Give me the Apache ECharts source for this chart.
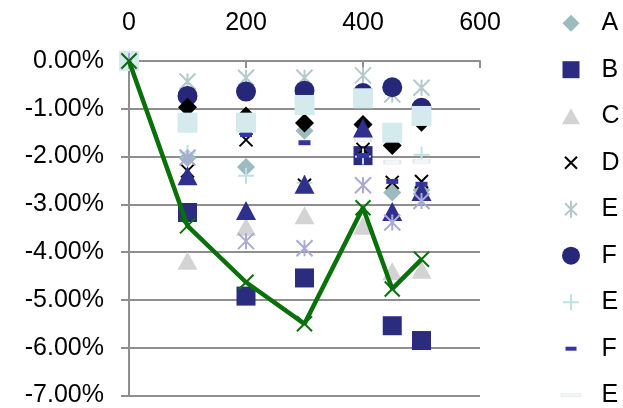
<!DOCTYPE html>
<html>
<head>
<meta charset="utf-8">
<script src="https://cdn.jsdelivr.net/npm/echarts@6/dist/echarts.min.js"></script>
<style>
  html, body { margin: 0; padding: 0; background: #fff; }
  #chart { width: 623px; height: 408px; }
</style>
</head>
<body>
<div id="chart"></div>
<script>
// Sample positions along the horizontal axis
var xValues = [0, 100, 200, 300, 400, 450, 500];

// Series values, in percent
var serA  = [0, -2.03, -2.22, -1.46, -1.33, -2.75, -2.70];
var serB  = [0, -3.17, -4.92, -4.54, -1.98, -5.54, -5.85];
var serC  = [0, -4.18, -3.47, -3.23, -3.45, -4.40, -4.37];
var serD  = [0, -2.30, -1.65, -2.60, -1.85, -2.54, -2.52];
var serE1 = [0, -0.43, -0.35, -0.35, -0.30, -0.70, -0.56];
var serF1 = [0, -0.73, -0.64, -0.62, -0.67, -0.55, -0.98];
var serE2 = [0, -1.92, -2.40, -2.55, -2.00, -1.50, -1.96];
var serF2 = [0, -1.30, -1.54, -1.71, -1.98, -2.52, -2.58];
var serE3 = [0, -1.29, -1.29, -0.92, -1.65, -2.12, -2.10];
var serF3 = [0, -0.97, -1.15, -1.30, -1.33, -1.77, -1.28];
var serE4 = [0, -2.40, -3.13, -2.58, -1.40, -3.15, -2.73];
var serF4 = [0, -2.02, -3.77, -3.92, -2.60, -3.38, -2.93];
var serE5 = [0, -1.29, -1.29, -0.92, -0.78, -1.50, -1.15];
var serF5 = [0, -3.45, -4.63, -5.50, -3.07, -4.77, -4.15];

// Axis ticks
var xTicks = { min: 0, max: 600, step: 200 };
var yTicks = { min: -7, max: 0, step: 1 };

// Marker shapes
var P_X    = 'path://M0,0L10,10M10,0L0,10';
var P_AST  = 'path://M5,0V10M0,0L10,10M10,0L0,10';
var P_PLUS = 'path://M5,0V10M0,5H10';
var P_DASH = 'path://M0,0H10V4H0Z';

// Legend icons drawn inside a 20x20 frame
var F = 'path://M0,0M20,20';
var L_DIAMOND = F + 'M10,1.5L18.5,10L10,18.5L1.5,10Z';
var L_SQUARE  = F + 'M1.5,1.5H18.5V18.5H1.5Z';
var L_TRI     = F + 'M10,2L19,18H1Z';
var L_X       = F + 'M4,4L16,16M16,4L4,16';
var L_AST     = F + 'M10,1.5V18.5M4,4L16,16M16,4L4,16';
var L_CIRCLE  = F + 'M10,1A9,9 0 1,1 10,19A9,9 0 1,1 10,1Z';
var L_PLUS    = F + 'M10,2V18M2,10H18';
var L_DASH    = F + 'M4.5,8H15.5V12H4.5Z';
var L_PALE    = F + 'M0,8.5H20V11.5H0Z';

var FONT = '"Liberation Sans", Arial, sans-serif';

function pts(values) {
  return xValues.map(function (x, i) { return [x, values[i]]; });
}

function scatter(name, values, symbol, size, itemStyle) {
  itemStyle.opacity = 1;
  return {
    type: 'scatter',
    name: name,
    data: pts(values),
    symbol: symbol,
    symbolSize: size,
    itemStyle: itemStyle,
    clip: false,
    emphasis: { disabled: true }
  };
}

var GREEN = '#0A700A';

// The green line sits underneath the marker series
var series = [
  {
    type: 'line',
    name: 'F    ',
    data: pts(serF5),
    symbol: P_X,
    symbolSize: 15,
    showSymbol: true,
    showAllSymbol: true,
    clip: false,
    lineStyle: { color: GREEN, width: 4.5 },
    itemStyle: { color: GREEN, borderColor: GREEN, borderWidth: 2, opacity: 1 },
    emphasis: { disabled: true }
  },
  scatter('A',  serA,  'diamond',  [18, 18], { color: '#9BBBBD' }),
  scatter('B',  serB,  'rect',     [19, 19], { color: '#2B2B80' }),
  scatter('C',  serC,  'triangle', [20, 18], { color: '#D3D3D3' }),
  scatter('D',  serD,  P_X,        [13, 13], { color: '#000', borderColor: '#000', borderWidth: 2 }),
  scatter('E',  serE1, P_AST,      [16, 16], { color: '#B4C9CA', borderColor: '#B4C9CA', borderWidth: 2 }),
  scatter('F',  serF1, 'circle',   [20, 20], { color: '#27277A' }),
  scatter('E ', serE2, P_PLUS,     [16, 16], { color: '#BCE2E8', borderColor: '#BCE2E8', borderWidth: 2 }),
  scatter('F ', serF2, P_DASH,     [12, 5],  { color: '#3434A2' }),
  scatter('E  ', serE3, P_DASH,    [16, 4],  { color: '#F4F5F7', borderColor: '#E3E7EA', borderWidth: 1 }),
  scatter('F  ', serF3, 'diamond', [19, 19], { color: '#000' }),
  scatter('E   ', serE4, 'triangle', [20, 19], { color: '#2F2F8E' }),
  scatter('E    ', serE5, 'rect',  [20, 20], { color: '#D5EAEC' }),
  scatter('F   ', serF4, P_AST,    [16, 16], { color: '#A9A9D6', borderColor: '#A9A9D6', borderWidth: 2 })
];

var legendData = [
  { name: 'A',   icon: L_DIAMOND, itemStyle: { color: '#9BBBBD', borderWidth: 0 } },
  { name: 'B',   icon: L_SQUARE,  itemStyle: { color: '#2B2B80', borderWidth: 0 } },
  { name: 'C',   icon: L_TRI,     itemStyle: { color: '#D3D3D3', borderWidth: 0 } },
  { name: 'D',   icon: L_X,       itemStyle: { color: '#000', borderColor: '#000', borderWidth: 2 } },
  { name: 'E',   icon: L_AST,     itemStyle: { color: '#B4C9CA', borderColor: '#B4C9CA', borderWidth: 2 } },
  { name: 'F',   icon: L_CIRCLE,  itemStyle: { color: '#27277A', borderWidth: 0 } },
  { name: 'E ',  icon: L_PLUS,    itemStyle: { color: '#BCE2E8', borderColor: '#BCE2E8', borderWidth: 2 } },
  { name: 'F ',  icon: L_DASH,    itemStyle: { color: '#3434A2', borderWidth: 0 } },
  { name: 'E  ', icon: L_PALE,    itemStyle: { color: '#F4F5F7', borderColor: '#E9ECEE', borderWidth: 1 } }
];

var AXIS_GRAY = '#8E8E8E';

var option = {
  animation: false,
  backgroundColor: '#fff',
  grid: { left: 129, top: 61, width: 351, height: 336 },
  legend: {
    orient: 'vertical',
    left: 560,
    top: 10.7,
    padding: 0,
    itemWidth: 51,
    itemHeight: 20,
    itemGap: 21.5,
    selectedMode: false,
    symbolKeepAspect: true,
    formatter: function (name) { return name.trim(); },
    textStyle: { fontSize: 25, color: '#000', fontFamily: FONT },
    data: legendData
  },
  xAxis: {
    type: 'value',
    position: 'top',
    min: xTicks.min,
    max: xTicks.max,
    interval: xTicks.step,
    axisLine: { show: true, onZero: false, lineStyle: { color: AXIS_GRAY, width: 2 } },
    axisTick: { show: true, inside: true, length: 7, lineStyle: { color: AXIS_GRAY, width: 2 } },
    axisLabel: { fontSize: 25, color: '#000', fontFamily: FONT, margin: 25 },
    splitLine: { show: false }
  },
  yAxis: {
    type: 'value',
    min: yTicks.min,
    max: yTicks.max,
    interval: yTicks.step,
    axisLine: { show: true, onZero: false, lineStyle: { color: AXIS_GRAY, width: 2 } },
    axisTick: { show: true, inside: false, length: 8, lineStyle: { color: AXIS_GRAY, width: 2 } },
    axisLabel: {
      fontSize: 25, color: '#000', fontFamily: FONT, margin: 25,
      formatter: function (v) { return (v === 0 ? '0.00' : v.toFixed(2)) + '%'; }
    },
    splitLine: { show: true, lineStyle: { color: AXIS_GRAY, width: 2 } }
  },
  series: series
};

var chart = echarts.init(document.getElementById('chart'), null, { renderer: 'canvas' });
chart.setOption(option);
</script>
</body>
</html>
